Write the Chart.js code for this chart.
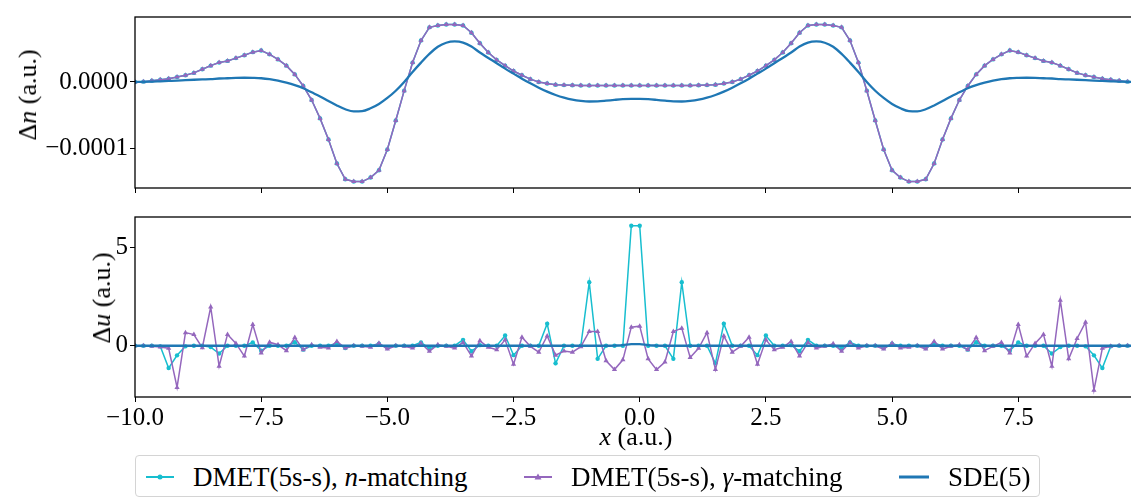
<!DOCTYPE html>
<html>
<head>
<meta charset="utf-8">
<script src="https://cdn.jsdelivr.net/npm/chart.js@4.4.1/dist/chart.umd.min.js"></script>
<style>
  html, body { margin: 0; padding: 0; background: #fff; overflow: hidden; }
  #fig { position: relative; width: 1131px; height: 497px; overflow: hidden;
         font-family: 'Liberation Serif', serif; color: #000; }
  canvas { position: absolute; left: 0; }
  #topChart { top: 0; }
  #botChart { top: 200px; }
  .label { position: absolute; white-space: nowrap; font-size: 26px; transform: translate(-50%, -50%); }
  .vlabel { transform: translate(-50%, -50%) rotate(-90deg); }
  #legend { position: absolute; left: 135px; top: 455px; width: 905px; height: 42px;
            border: 1px solid #d4d4d4; border-radius: 4px; box-sizing: border-box; }
  .item { position: absolute; top: 0; height: 42px; display: flex; align-items: center;
          font-size: 27px; white-space: nowrap; }
  .item svg { margin-right: 19px; }
</style>
</head>
<body>
<div id="fig">
  <canvas id="topChart" width="1140" height="205"></canvas>
  <canvas id="botChart" width="1140" height="240"></canvas>

  <div class="label vlabel" style="left:28px; top:95px;">Δ<i>n</i> (a.u.)</div>
  <div class="label vlabel" style="left:102px; top:298px;">Δ<i>u</i> (a.u.)</div>
  <div class="label" style="left:636px; top:437px;"><i>x</i> (a.u.)</div>

  <div id="legend">
    <div class="item" style="left:10px;">
      <svg width="28" height="10"><line x1="0" y1="5" x2="28" y2="5" stroke="#17becf" stroke-width="2"/><circle cx="14" cy="5" r="2.5" fill="#17becf"/></svg>
      <span>DMET(5s-s), <i>n</i>-matching</span>
    </div>
    <div class="item" style="left:388px;">
      <svg width="28" height="10"><line x1="0" y1="5" x2="28" y2="5" stroke="#9467bd" stroke-width="2"/><polygon points="14,1.5 17.5,7.5 10.5,7.5" fill="#9467bd"/></svg>
      <span>DMET(5s-s), <i>γ</i>-matching</span>
    </div>
    <div class="item" style="left:763px;">
      <svg width="30" height="10"><line x1="0" y1="5" x2="30" y2="5" stroke="#1f77b4" stroke-width="3"/></svg>
      <span>SDE(5)</span>
    </div>
  </div>
</div>

<script>
// Сетка по x: 120 точек на [-10, 10), шаг 1/6
const xGrid = Array.from({ length: 120 }, (_, k) => -10 + k / 6);
const xTicks = [-10, -7.5, -5, -2.5, 0, 2.5, 5, 7.5];

// Δn в единицах 1e-4 (обе схемы DMET совпадают на графике)
const dnDmet = [
  0.000, 0.005, 0.020, 0.033, 0.050, 0.075, 0.100, 0.136, 0.190, 0.244,
  0.290, 0.315, 0.357, 0.400, 0.446, 0.470, 0.413, 0.338, 0.244, 0.113,
  -0.060, -0.270, -0.545, -0.860, -1.220, -1.455, -1.490, -1.490, -1.430, -1.320,
  -1.010, -0.577, -0.130, 0.290, 0.620, 0.817, 0.845, 0.860, 0.860, 0.845,
  0.737, 0.580, 0.440, 0.330, 0.244, 0.164, 0.100, 0.042, 0.000, -0.023,
  -0.042, -0.047, -0.050, -0.052, -0.052, -0.052, -0.052, -0.052, -0.052, -0.052,
  -0.052, -0.052, -0.052, -0.052, -0.052, -0.052, -0.052, -0.050, -0.047, -0.042,
  -0.023, 0.000, 0.042, 0.100, 0.164, 0.244, 0.330, 0.440, 0.580, 0.737,
  0.845, 0.860, 0.860, 0.845, 0.817, 0.620, 0.290, -0.130, -0.577, -1.010,
  -1.320, -1.430, -1.490, -1.490, -1.455, -1.220, -0.860, -0.545, -0.270, -0.060,
  0.113, 0.244, 0.338, 0.413, 0.470, 0.446, 0.400, 0.357, 0.315, 0.290,
  0.244, 0.190, 0.136, 0.100, 0.075, 0.050, 0.033, 0.020, 0.005, 0.000
];

const dnSde = [
  0.000, 0.002, 0.005, 0.010, 0.015, 0.020, 0.027, 0.033, 0.038, 0.042,
  0.052, 0.056, 0.061, 0.063, 0.061, 0.056, 0.042, 0.020, -0.010, -0.047,
  -0.094, -0.155, -0.216, -0.286, -0.352, -0.408, -0.441, -0.437, -0.394, -0.329,
  -0.239, -0.131, 0.000, 0.150, 0.290, 0.420, 0.526, 0.587, 0.606, 0.590,
  0.530, 0.440, 0.360, 0.280, 0.200, 0.125, 0.050, -0.020, -0.085, -0.145,
  -0.195, -0.235, -0.265, -0.283, -0.292, -0.290, -0.280, -0.268, -0.258, -0.254,
  -0.254, -0.258, -0.268, -0.280, -0.290, -0.292, -0.283, -0.265, -0.235, -0.195,
  -0.145, -0.085, -0.020, 0.050, 0.125, 0.200, 0.280, 0.360, 0.440, 0.530,
  0.590, 0.606, 0.587, 0.526, 0.420, 0.290, 0.150, 0.000, -0.131, -0.239,
  -0.329, -0.394, -0.437, -0.441, -0.408, -0.352, -0.286, -0.216, -0.155, -0.094,
  -0.047, -0.010, 0.020, 0.042, 0.056, 0.061, 0.063, 0.061, 0.056, 0.052,
  0.042, 0.038, 0.033, 0.027, 0.020, 0.015, 0.010, 0.005, 0.002, 0.000
];

// Δu (a.u.)
const duNMatch = [
  0, 0, 0, -0.03, -1.14, -0.49, -0.03, 0, 0, -0.07,
  -0.40, 0, 0, 0, 0.17, -0.25, 0, 0, 0, 0.18,
  -0.20, 0, 0, 0, 0.13, -0.12, 0, 0, 0, 0.10,
  -0.12, 0, 0, 0, 0.17, -0.15, 0, 0, 0, 0.30,
  -0.28, 0.03, 0, 0, 0.52, -0.48, 0, 0, 0, 1.13,
  -0.90, 0, 0, 0, 3.25, -0.67, 0, 0, 0, 6.13,
  6.13, 0, 0, 0, -0.67, 3.25, 0, 0, 0, -0.90,
  1.13, 0, 0, 0, -0.48, 0.52, 0, 0, 0.03, -0.28,
  0.30, 0, 0, 0, -0.15, 0.17, 0, 0, 0, -0.12,
  0.10, 0, 0, 0, -0.12, 0.13, 0, 0, 0, -0.20,
  0.18, 0, 0, 0, -0.25, 0.17, 0, 0, 0, -0.40,
  -0.07, 0, 0, -0.03, -0.49, -1.14, -0.03, 0, 0, 0
];

const duGammaMatch = [
  0, 0, -0.02, -0.07, -0.13, -2.13, 0.67, 0.57, -0.10, 1.98,
  -1.05, 0.58, 0.12, -0.53, 1.08, -0.37, 0.18, 0.05, -0.25, 0.42,
  -0.20, 0.05, -0.08, -0.12, 0.22, -0.12, 0, -0.03, -0.08, 0.13,
  -0.17, 0, -0.03, -0.12, 0.13, -0.28, 0.05, -0.03, -0.12, 0.17,
  -0.53, 0.25, -0.08, -0.20, 0.30, -0.95, 0.43, -0.03, -0.33, 0.50,
  -0.48, -0.27, -0.33, -0.05, 0.73, 0.73, -0.77, -1.22, -0.72, 0.95,
  1.00, -0.67, -1.22, -0.83, 0.73, 0.90, -0.60, -0.13, 0.67, -1.22,
  0.50, -0.33, -0.03, 0.43, -0.95, 0.30, -0.20, -0.08, 0.22, -0.53,
  0.17, -0.12, -0.03, 0.10, -0.28, 0.17, -0.12, 0, 0, -0.17,
  0.13, -0.12, -0.08, 0, -0.17, 0.22, -0.17, -0.03, 0.05, -0.20,
  0.42, -0.25, -0.03, 0.17, -0.37, 1.08, -0.53, 0.12, 0.58, -1.05,
  2.33, -0.67, 0.37, 1.20, -2.27, -0.13, -0.03, 0, 0, 0
];

const duSde = [
  0, 0, 0, 0, 0, 0, 0, 0, 0, 0,
  0, 0, 0, 0, 0, 0, 0, 0, 0, 0,
  0, 0, 0, 0, 0, 0, 0, 0, 0, 0,
  0, 0, 0, 0, 0, 0, 0, 0, 0, 0,
  0, 0, 0, 0, 0, 0, 0, 0, 0, 0,
  0, 0, 0, 0, 0, 0, 0, 0.01, 0.03, 0.08,
  0.08, 0.03, 0.01, 0, 0, 0, 0, 0, 0, 0,
  0, 0, 0, 0, 0, 0, 0, 0, 0, 0,
  0, 0, 0, 0, 0, 0, 0, 0, 0, 0,
  0, 0, 0, 0, 0, 0, 0, 0, 0, 0,
  0, 0, 0, 0, 0, 0, 0, 0, 0, 0,
  0, 0, 0, 0, 0, 0, 0, 0, 0, 0
];

const DN_UNIT = 1e-4;
const COLORS = { n: '#17becf', gamma: '#9467bd', sde: '#1f77b4' };
const FONT = { family: "'Liberation Serif', serif", size: 25 };

const minus = s => s.replace('-', '\u2212');
const toPoints = (arr, scale = 1) => xGrid.map((x, k) => ({ x, y: arr[k] * scale }));

// Рамка вокруг области графика
const boxPlugin = {
  id: 'box',
  afterDraw(chart) {
    const { ctx, chartArea: a } = chart;
    ctx.save();
    ctx.strokeStyle = '#000';
    ctx.lineWidth = 1.3;
    ctx.strokeRect(a.left, a.top, a.right - a.left, a.bottom - a.top);
    ctx.restore();
  }
};

function makeDatasets(nArr, gArr, sArr, scale) {
  return [
    {
      label: 'DMET(5s-s), n-matching',
      data: toPoints(nArr, scale),
      borderColor: COLORS.n, backgroundColor: COLORS.n,
      borderWidth: 1.5, pointStyle: 'circle', pointRadius: 2.2, pointBorderWidth: 0,
      order: 3
    },
    {
      label: 'DMET(5s-s), γ-matching',
      data: toPoints(gArr, scale),
      borderColor: COLORS.gamma, backgroundColor: COLORS.gamma,
      borderWidth: 1.5, pointStyle: 'triangle', pointRadius: 3, pointBorderWidth: 0,
      order: 2
    },
    {
      label: 'SDE(5)',
      data: toPoints(sArr, scale),
      borderColor: COLORS.sde, backgroundColor: COLORS.sde,
      borderWidth: 2.3, pointRadius: 0, cubicInterpolationMode: 'monotone',
      order: 1
    }
  ];
}

function xScale(showLabels, height) {
  return {
    type: 'linear',
    min: -10,
    max: xGrid[xGrid.length - 1],
    afterBuildTicks: s => { s.ticks = xTicks.map(v => ({ value: v })); },
    afterFit: s => { s.height = height; },
    border: { display: false },
    grid: { drawOnChartArea: false, drawTicks: true, tickLength: 5, color: '#000', lineWidth: 1 },
    ticks: {
      display: showLabels, autoSkip: false, maxRotation: 0, padding: 1,
      color: '#000', font: FONT,
      callback: v => minus(v.toFixed(1))
    }
  };
}

function yScale(min, max, ticks, digits) {
  return {
    min, max,
    afterBuildTicks: s => { s.ticks = ticks.map(v => ({ value: v })); },
    afterFit: s => { s.width = 135; },
    border: { display: false },
    grid: { drawOnChartArea: false, drawTicks: true, tickLength: 5, color: '#000', lineWidth: 1 },
    ticks: {
      padding: 2, color: '#000', font: FONT,
      callback: v => minus(v.toFixed(digits))
    }
  };
}

const commonOptions = {
  responsive: false,
  animation: false,
  devicePixelRatio: 1,
  plugins: { legend: { display: false }, tooltip: { enabled: false } }
};

// Верхний график: Δn
new Chart(document.getElementById('topChart').getContext('2d'), {
  type: 'line',
  data: { datasets: makeDatasets(dnDmet, dnDmet, dnSde, DN_UNIT) },
  options: {
    ...commonOptions,
    layout: { padding: { top: 12, right: 3, left: 0, bottom: 0 } },
    scales: {
      x: xScale(false, 12),
      y: yScale(-1.586e-4, 0.972e-4, [-1e-4, 0], 4)
    }
  },
  plugins: [boxPlugin]
});

// Нижний график: Δu
new Chart(document.getElementById('botChart').getContext('2d'), {
  type: 'line',
  data: { datasets: makeDatasets(duNMatch, duGammaMatch, duSde, 1) },
  options: {
    ...commonOptions,
    layout: { padding: { top: 13, right: 3, left: 0, bottom: 0 } },
    scales: {
      x: xScale(true, 43),
      y: yScale(-2.62, 6.58, [0, 5], 0)
    }
  },
  plugins: [boxPlugin]
});
</script>
</body>
</html>
